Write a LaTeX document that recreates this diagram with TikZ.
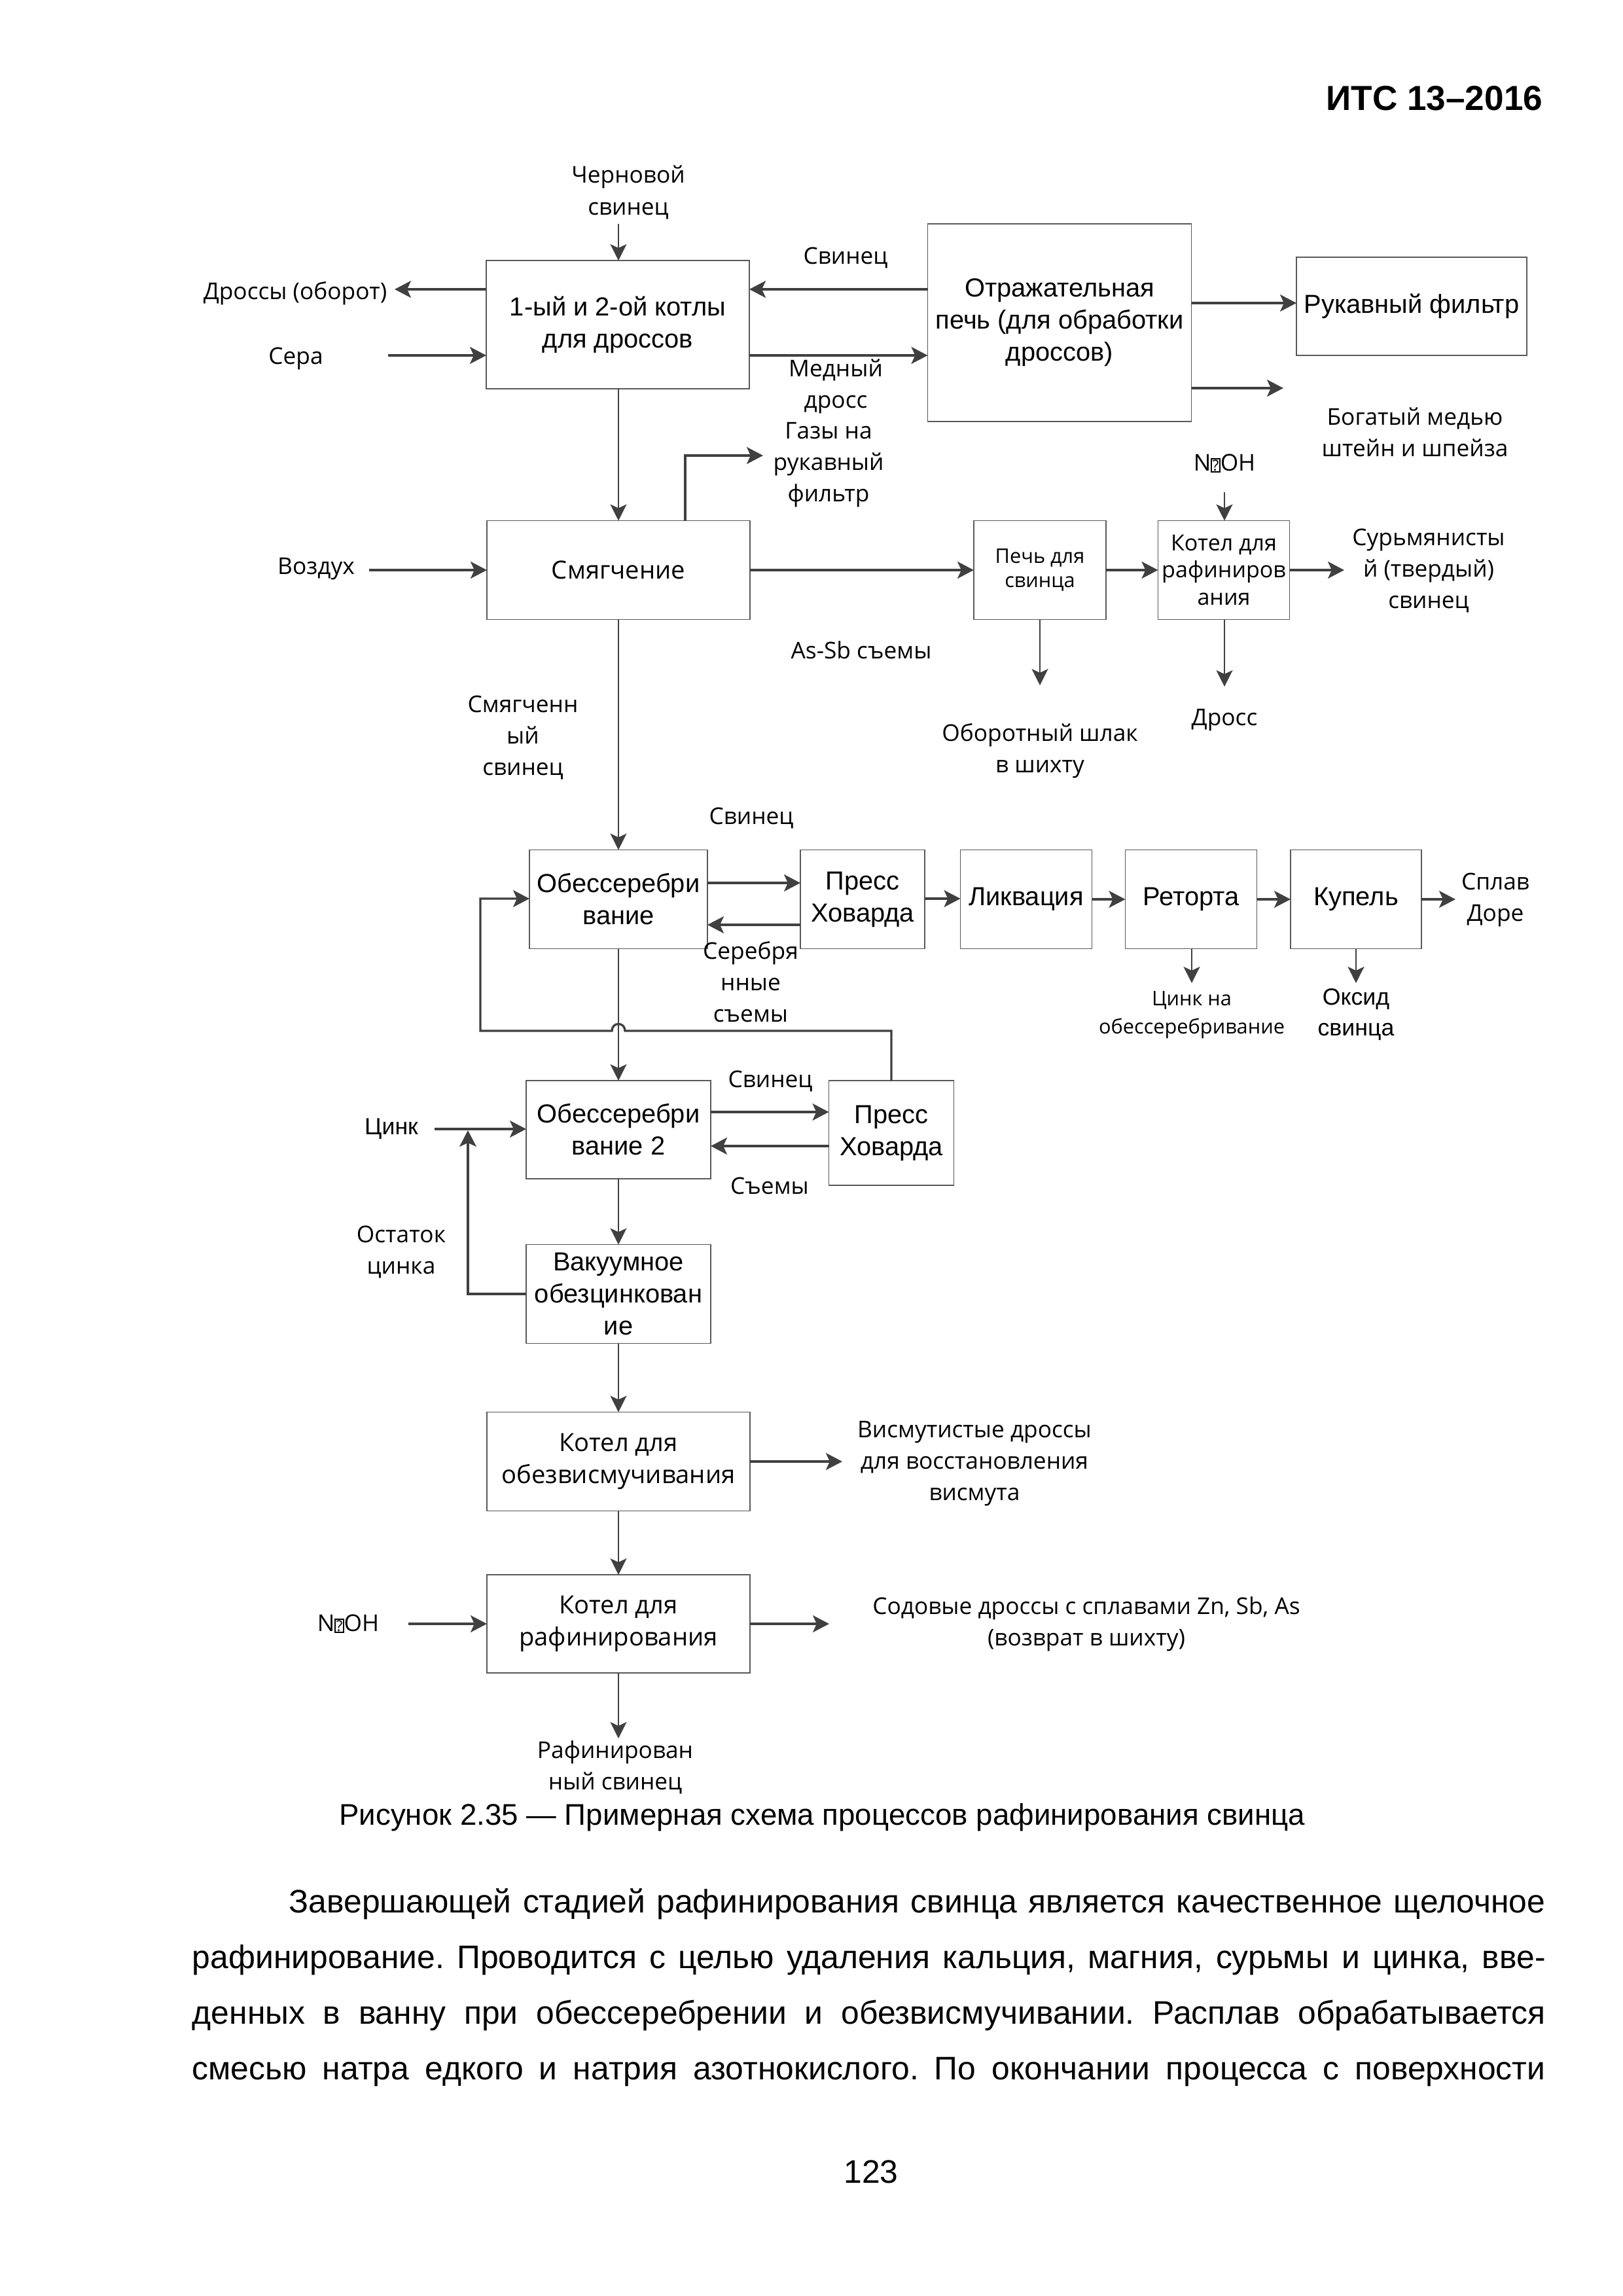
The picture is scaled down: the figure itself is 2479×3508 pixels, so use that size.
\documentclass[tikz,border=0pt]{standalone}
\usepackage{fontspec}
\setmainfont{Liberation Sans}
\newfontfamily\osf{Open Sans}
\usetikzlibrary{arrows.meta}
\definecolor{cline}{HTML}{404040}
\definecolor{cbox}{HTML}{595959}
\newcommand\qmark{{\setlength\fboxsep{0.2pt}\setlength\fboxrule{0.35pt}\raisebox{0.2pt}{\fbox{\fontsize{5.5pt}{5.5pt}\selectfont ?}}}}
\frenchspacing
\begin{document}
\begin{tikzpicture}[x=0.0084709cm, y=-0.0084709cm,
  box/.style={draw=cbox, line width=0.45pt, inner sep=0pt, outer sep=0pt, align=center, font=\fontsize{9.6pt}{11.8pt}\selectfont},
  obox/.style={box, font=\osf\fontsize{9.2pt}{11.8pt}\selectfont},
  sz/.style 2 args={minimum width={#1*0.0084709cm}, minimum height={#2*0.0084709cm}},
  lbl/.style={inner sep=0pt, align=center, font=\osf\fontsize{8.5pt}{11.6pt}\selectfont},
  albl/.style={inner sep=0pt, align=center, font=\fontsize{8.6pt}{11.4pt}\selectfont},
  harr/.style={draw=cline, line width=0.95pt, -{Stealth[length=6pt,width=6.2pt,inset=1.4pt]}},
  varr/.style={draw=cline, line width=0.7pt, -{Stealth[length=6pt,width=6pt,inset=1.4pt]}},
  lparr/.style={draw=cline, line width=0.8pt, -{Stealth[length=6pt,width=6.2pt,inset=1.4pt]}},
  hln/.style={draw=cline, line width=0.95pt},
]
\fill[white] (0,0) rectangle (2479,3508);
\useasboundingbox (0,0) rectangle (2479,3508);

% ---------- page furniture ----------
\node[anchor=base east, inner sep=0pt, font=\bfseries\fontsize{12.8pt}{14pt}\selectfont] (hdr) at (2358,168) {ИТС 13–2016};
\node[inner sep=0pt, font=\fontsize{11pt}{13pt}\selectfont] (cap) at (1256,2777) {Рисунок 2.35 — Примерная схема процессов рафинирования свинца};
\node[anchor=base west, inner sep=0pt, font=\fontsize{12pt}{14pt}\selectfont] (bl1) at (441,2922) {\makebox[16.2557cm][s]{Завершающей стадией рафинирования свинца является качественное щелочное}};
\node[anchor=base west, inner sep=0pt, font=\fontsize{12pt}{14pt}\selectfont] (bl2) at (293,3007) {\makebox[17.5094cm][s]{рафинирование. Проводится с целью удаления кальция, магния, сурьмы и цинка, вве-}};
\node[anchor=base west, inner sep=0pt, font=\fontsize{12pt}{14pt}\selectfont] (bl3) at (293,3092) {\makebox[17.5094cm][s]{денных в ванну при обессеребрении и обезвисмучивании. Расплав обрабатывается}};
\node[anchor=base west, inner sep=0pt, font=\fontsize{12pt}{14pt}\selectfont] (bl4) at (293,3177) {\makebox[17.5094cm][s]{смесью натра едкого и натрия азотнокислого. По окончании процесса с поверхности}};
\node[inner sep=0pt, font=\fontsize{12pt}{14pt}\selectfont] (pg) at (1331,3318) {123};

% ---------- boxes ----------
\node[box, sz={402}{196}] (b1) at (944,496) {1-ый и 2-ой котлы\\для дроссов};
\node[box, sz={403}{302}] (refl) at (1619,493) {Отражательная\\печь (для обработки\\дроссов)};
\node[box, sz={352}{150}] (ruk) at (2157,468) {Рукавный фильтр};
\node[obox, sz={402}{151}] (smg) at (945,871) {Смягчение};
\node[obox, sz={202}{151}, font=\osf\fontsize{7.4pt}{8.9pt}\selectfont] (pech) at (1589,871) {Печь для\\свинца};
\node[obox, sz={201}{151}, font=\osf\fontsize{8.2pt}{9.9pt}\selectfont] (kot1) at (1870,871) {Котел для\\рафиниров\\ания};
\node[box, sz={272}{151}] (obs) at (945,1374) {Обессеребри\\вание};
\node[box, sz={190}{151}] (prs) at (1318,1374) {Пресс\\Ховарда};
\node[box, sz={201}{151}] (lik) at (1568,1374) {Ликвация};
\node[box, sz={201}{151}] (ret) at (1820,1374) {Реторта};
\node[box, sz={200}{151}] (kup) at (2072,1374) {Купель};
\node[box, sz={282}{150}] (obs2) at (945,1726) {Обессеребри\\вание 2};
\node[box, sz={191}{160}] (prs2) at (1362,1731) {Пресс\\Ховарда};
\node[box, sz={282}{151}] (vac) at (945,1977) {Вакуумное\\обезцинкован\\ие};
\node[obox, sz={402}{151}] (kob) at (945,2233) {Котел для\\обезвисмучивания};
\node[obox, sz={402}{150}] (kraf) at (945,2481) {Котел для\\рафинирования};

% ---------- labels ----------
\node[lbl] (lChern) at (960,294) {Черновой\\свинец};
\node[lbl] (lDr) at (451,448) {Дроссы (оборот)};
\node[lbl] (lSera) at (452,548) {Сера};
\node[lbl] (lSv1) at (1292,394) {Свинец};
\node[lbl] (lMed) at (1277,590) {Медный\\дросс};
\node[lbl] (lGaz) at (1266,710) {Газы на\\рукавный\\фильтр};
\node[lbl] (lBog) at (2162,660) {Богатый медью\\штейн и шпейза};
\node[lbl] (lNa1) at (1871,708) {N\qmark OH};
\node[lbl] (lVoz) at (483,869) {Воздух};
\node[lbl] (lAs) at (1316,993) {As-Sb съемы};
\node[lbl] (lSur) at (2183,872) {Сурьмянисты\\й (твердый)\\свинец};
\node[lbl] (lObor) at (1589,1147) {Оборотный шлак\\в шихту};
\node[lbl] (lDross) at (1871,1100) {Дросс};
\node[lbl] (lSmg) at (799,1127) {Смягченн\\ый\\свинец};
\node[lbl] (lSv2) at (1148,1250) {Свинец};
\node[lbl] (lSer) at (1147,1500) {Серебря\\нные\\съемы};
\node[lbl, font=\osf\fontsize{7.4pt}{10.4pt}\selectfont] (lZnObs) at (1821,1551) {Цинк на\\обессеребривание};
\node[albl] (lOks) at (2072,1550) {Оксид\\свинца};
\node[lbl] (lDore) at (2285,1375) {Сплав\\Доре};
\node[albl] (lZinc) at (598,1725) {Цинк};
\node[lbl] (lSv3) at (1177,1652) {Свинец};
\node[lbl] (lSem) at (1176,1812) {Съемы};
\node[lbl] (lOst) at (613,1913) {Остаток\\цинка};
\node[lbl] (lBi) at (1489,2236) {Висмутистые дроссы\\для восстановления\\висмута};
\node[lbl] (lNa2) at (532,2481) {N\qmark OH};
\node[lbl] (lSoda) at (1660,2481) {Содовые дроссы с сплавами Zn, Sb, As\\(возврат в шихту)};
\node[lbl] (lRaf) at (940,2700) {Рафинирован\\ный свинец};

% ---------- free ends ----------
\coordinate (cIn1) at (945,342);
\coordinate (cDr) at (603,442);
\coordinate (cSera) at (593,543);
\coordinate (ySv) at (0,442);
\coordinate (yMed) at (0,543);
\coordinate (yRuk) at (0,463);
\coordinate (cBog) at (1961,593);
\coordinate (gzA) at (1047,696);
\coordinate (cGaz) at (1166,696);
\coordinate (cVoz) at (564,871);
\coordinate (cSur) at (2054,871);
\coordinate (cNa1) at (1871,752);
\coordinate (cObor) at (1589,1047);
\coordinate (cDross) at (1871,1049);
\coordinate (yP1) at (0,1349);
\coordinate (yP2) at (0,1413);
\coordinate (cDore) at (2224,1374);
\coordinate (cZnO) at (1821,1502);
\coordinate (cOks) at (2072,1502);
\coordinate (lpA) at (1362,1575);
\coordinate (lpB) at (955,1575);
\coordinate (lpC) at (935,1575);
\coordinate (lpD) at (734,1575);
\coordinate (lpE) at (734,1373);
\coordinate (yQ1) at (0,1699);
\coordinate (yQ2) at (0,1751);
\coordinate (cZinc) at (664,1725);
\coordinate (rtA) at (715,1977);
\coordinate (rtB) at (715,1727);
\coordinate (cBi) at (1287,2233);
\coordinate (cNa2) at (624,2481);
\coordinate (cSoda) at (1267,2481);
\coordinate (cRaf) at (945,2656);

% ---------- connectors ----------
\draw[varr] (cIn1) -- (cIn1 |- b1.north);
\draw[harr] (b1.west |- ySv) -- (cDr);
\draw[harr] (cSera) -- (b1.west |- cSera);
\draw[harr] (refl.west |- ySv) -- (b1.east |- ySv);
\draw[harr] (b1.east |- yMed) -- (refl.west |- yMed);
\draw[harr] (refl.east |- yRuk) -- (ruk.west |- yRuk);
\draw[harr] (refl.east |- cBog) -- (cBog);
\draw[varr] (b1.south -| smg.north) -- (smg.north);
\draw[harr] (smg.north -| gzA) -- (gzA) -- (cGaz);
\draw[harr] (cVoz) -- (smg.west);
\draw[harr] (smg.east) -- (pech.west);
\draw[harr] (pech.east) -- (kot1.west);
\draw[harr] (kot1.east) -- (cSur);
\draw[varr] (cNa1) -- (cNa1 |- kot1.north);
\draw[varr] (pech.south) -- (cObor);
\draw[varr] (cDross |- kot1.south) -- (cDross);
\draw[varr] (smg.south) -- (obs.north);
\draw[harr] (obs.east |- yP1) -- (prs.west |- yP1);
\draw[harr] (prs.west |- yP2) -- (obs.east |- yP2);
\draw[harr] (prs.east |- 0,1373) -- (lik.west |- 0,1373);
\draw[harr] (lik.east) -- (ret.west);
\draw[harr] (ret.east) -- (kup.west);
\draw[harr] (kup.east) -- (cDore);
\draw[varr] (cZnO |- ret.south) -- (cZnO);
\draw[varr] (kup.south) -- (cOks);
\draw[varr] (obs.south) -- (obs2.north);
\draw[lparr] (prs2.north) -- (lpA) -- (lpB) .. controls (955,1561) and (935,1561) .. (lpC) -- (lpD) -- (lpE) -- (obs.west |- lpE);
\draw[harr] (obs2.east |- yQ1) -- (prs2.west |- yQ1);
\draw[harr] (prs2.west |- yQ2) -- (obs2.east |- yQ2);
\draw[harr] (cZinc) -- (obs2.west |- cZinc);
\draw[lparr] (vac.west |- rtA) -- (rtA) -- (rtB);
\draw[varr] (obs2.south) -- (vac.north);
\draw[varr] (vac.south) -- (kob.north);
\draw[harr] (kob.east) -- (cBi);
\draw[varr] (kob.south) -- (kraf.north);
\draw[harr] (cNa2) -- (kraf.west);
\draw[harr] (kraf.east) -- (cSoda);
\draw[varr] (kraf.south) -- (cRaf);
\end{tikzpicture}
\end{document}
